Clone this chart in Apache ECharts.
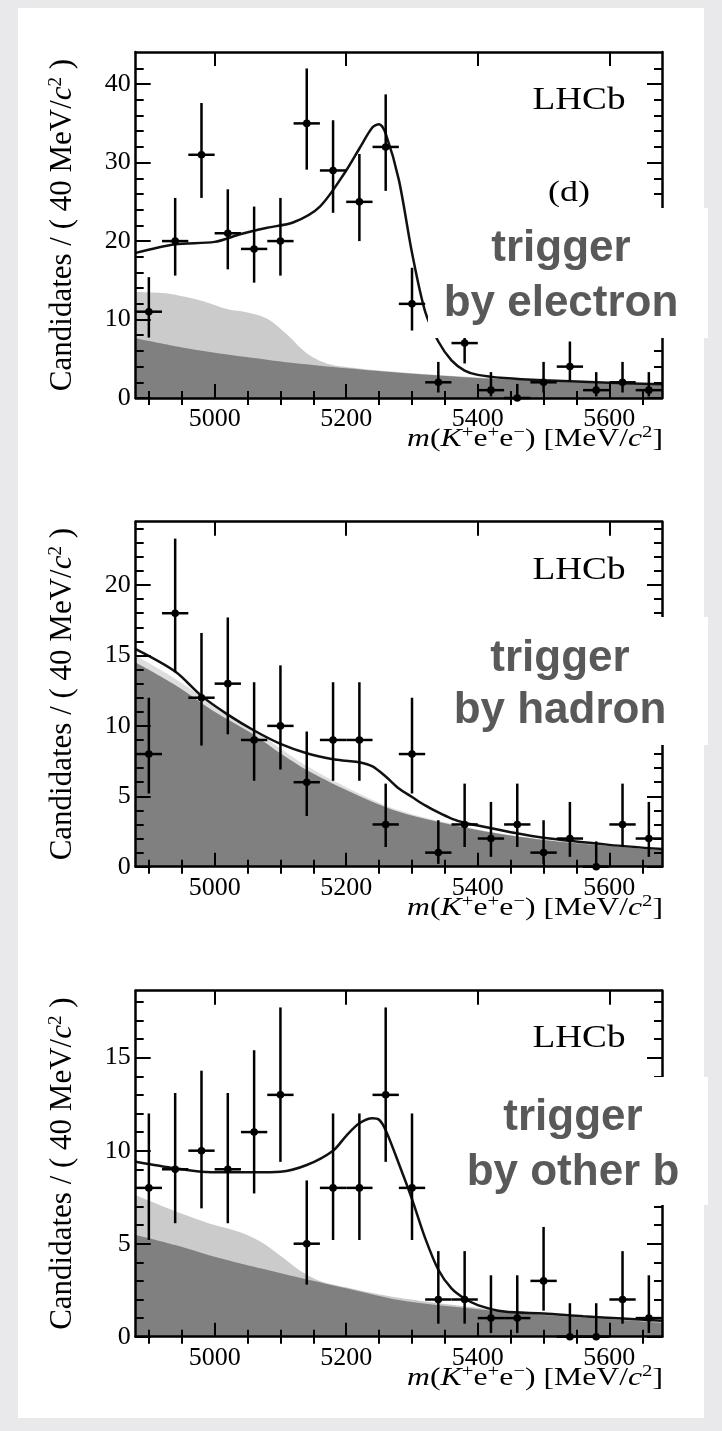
<!DOCTYPE html>
<html><head><meta charset="utf-8">
<script src="https://cdn.jsdelivr.net/npm/echarts@6/dist/echarts.min.js"></script>
<style>
html,body{margin:0;padding:0;background:#e9e9eb;width:722px;height:1431px;overflow:hidden;}
#card{position:absolute;left:18px;top:8px;width:686px;height:1410px;background:#fff;}
#chart{position:absolute;left:0;top:0;width:722px;height:1431px;}
</style></head><body>
<div id="card"></div><div id="chart"></div>
<script>
// ---------------- data ----------------
const binCenters = [4900,4940,4980,5020,5060,5100,5140,5180,5220,5260,5300,5340,5380,5420,5460,5500,5540,5580,5620,5660];
const binHalfWidth = 20;
const xMajorTicks = [5000,5200,5400,5600];
const xMinorTicks = [4900,4950,5050,5100,5150,5250,5300,5350,5450,5500,5550,5650];

// panel 1 : trigger by electron
const counts1 = [11,20,31,21,19,20,35,29,25,32,12,2,7,1,0,2,4,1,2,1];
const errLo1  = [3.3,4.4,5.5,4.6,4.3,4.4,5.9,5.4,5.0,5.6,3.4,1.3,2.6,0.8,0,1.3,1.9,0.8,1.3,0.8];
const errHi1  = [4.4,5.5,6.6,5.6,5.4,5.5,7.0,6.4,6.1,6.7,4.6,2.6,3.8,2.3,1.8,2.6,3.2,2.3,2.6,2.3];
const combX1 = [4880,4940,5000,5060,5120,5200,5290,5400,5500,5600,5680];
const comb1  = [7.6,6.6,5.77,5.1,4.45,3.78,3.15,2.55,2.15,1.85,1.65];
const bkgX1  = [4880,4930,4980,5020,5050,5080,5110,5140,5170,5210,5250,5300,5400,5500,5600,5680];
const bkg1   = [13.5,13.3,12.4,11.3,10.9,10.1,8.1,5.7,4.4,3.85,3.5,3.17,2.62,2.22,1.92,1.72];
const fitX1  = [4880,4940,5000,5040,5080,5120,5160,5200,5220,5240,5250,5260,5280,5300,5320,5340,5360,5380,5400,5440,5500,5600,5680];
const fit1   = [18.5,19.6,19.9,20.9,21.7,22.4,24.4,29.0,31.8,34.5,34.9,33.7,27.8,18.5,11.0,7.2,4.8,3.5,2.95,2.55,2.25,1.95,1.75];
const yMajor1 = [0,10,20,30,40];
const yMinor1 = [2,4,6,8,12,14,16,18,22,24,26,28,32,34,36,38,42];

// panel 2 : trigger by hadron
const counts2 = [8,18,12,13,9,10,6,9,9,3,8,1,3,2,3,1,2,0,3,2];
const errLo2  = [2.8,4.2,3.4,3.6,2.9,3.1,2.4,2.9,2.9,1.6,2.8,0.8,1.6,1.3,1.6,0.8,1.3,0,1.6,1.3];
const errHi2  = [4.0,5.3,4.6,4.7,4.1,4.3,3.6,4.1,4.1,2.9,4.0,2.3,2.9,2.6,2.9,2.3,2.6,1.8,2.9,2.6];
const combX2 = [4880,4940,5000,5060,5100,5140,5200,5280,5400,5500,5600,5680];
const comb2  = [14.5,12.9,11.0,9.36,8.06,6.87,5.45,3.9,2.6,1.9,1.47,1.19];
const bkgX2  = [4880,4940,5000,5060,5100,5140,5200,5280,5400,5500,5600,5680];
const bkg2   = [15.0,13.35,11.45,9.75,8.4,7.15,5.65,4.0,2.65,1.93,1.49,1.2];
const fitX2  = [4880,4940,4980,5020,5060,5100,5140,5180,5200,5220,5240,5260,5280,5300,5320,5340,5360,5380,5400,5450,5500,5600,5680];
const fit2   = [15.45,13.86,12.13,10.8,9.67,8.72,8.06,7.63,7.52,7.42,7.12,6.4,5.55,4.95,4.35,3.85,3.42,3.12,2.92,2.45,2.05,1.55,1.25];
const yMajor2 = [0,5,10,15,20];
const yMinor2 = [1,2,3,4,6,7,8,9,11,12,13,14,16,17,18,19,21,22,23,24];

// panel 3 : trigger by other b
const counts3 = [8,9,10,9,11,13,5,8,8,13,8,2,2,1,1,3,0,0,2,1];
const errLo3  = [2.8,2.9,3.1,2.9,3.3,3.6,2.2,2.8,2.8,3.6,2.8,1.3,1.3,0.8,0.8,1.6,0,0,1.3,0.8];
const errHi3  = [4.0,4.1,4.3,4.1,4.4,4.7,3.4,4.0,4.0,4.7,4.0,2.6,2.6,2.3,2.3,2.9,1.8,1.8,2.6,2.3];
const combX3 = [4880,4940,5000,5060,5120,5200,5280,5400,5500,5600,5680];
const comb3  = [5.47,4.93,4.3,3.76,3.25,2.6,1.97,1.47,1.17,0.94,0.75];
const bkgX3  = [4880,4940,5000,5040,5070,5100,5130,5160,5200,5240,5280,5360,5440,5520,5600,5680];
const bkg3   = [7.6,6.75,6.0,5.6,5.1,4.35,3.55,3.0,2.66,2.35,2.1,1.72,1.4,1.16,0.98,0.8];
const fitX3  = [4880,4940,4980,5020,5060,5100,5140,5180,5200,5220,5240,5250,5260,5280,5300,5320,5340,5360,5380,5400,5440,5500,5560,5620,5680];
const fit3   = [9.41,9.05,8.87,8.84,8.84,8.87,9.23,10.0,10.8,11.47,11.74,11.66,11.1,9.3,7.4,5.3,3.6,2.6,2.05,1.7,1.35,1.25,1.1,0.98,0.86];
const yMajor3 = [0,5,10,15];
const yMinor3 = [1,2,3,4,6,7,8,9,11,12,13,14,16,17,18];

const xMin = 4880, xMax = 5680;
const triggerLabels = [['trigger','by electron'],['trigger','by hadron'],['trigger','by other b']];

// ---------------- layout ----------------
const panels = [
  {top:52,    height:346, yMax:44.1, yMajor:yMajor1, yMinor:yMinor1, counts:counts1, lo:errLo1, hi:errHi1,
   combX:combX1, comb:comb1, bkgX:bkgX1, bkg:bkg1, fitX:fitX1, fit:fit1, bkgColor:'#cbcbcb',
   box:{x:428,y:208,w:280,h:130}, tx:561, tb:[264,319], lhcb:112, d:true},
  {top:521.7, height:345, yMax:24.5, yMajor:yMajor2, yMinor:yMinor2, counts:counts2, lo:errLo2, hi:errHi2,
   combX:combX2, comb:comb2, bkgX:bkgX2, bkg:bkg2, fitX:fitX2, fit:fit2, bkgColor:'#dedede',
   box:{x:442,y:617,w:266,h:128}, tx:560, tb:[674,726], lhcb:582, d:false},
  {top:990.7, height:346, yMax:18.6, yMajor:yMajor3, yMinor:yMinor3, counts:counts3, lo:errLo3, hi:errHi3,
   combX:combX3, comb:comb3, bkgX:bkgX3, bkg:bkg3, fitX:fitX3, fit:fit3, bkgColor:'#cbcbcb',
   box:{x:455,y:1077,w:253,h:128}, tx:573, tb:[1133,1188], lhcb:1050, d:false}
];
const gridLeft = 135.7, gridRight = 60;
const serif = '"Liberation Serif","Times New Roman","DejaVu Serif",serif';
const sans = '"Liberation Sans",Arial,Helvetica,sans-serif';

const grids = [], xAxes = [], yAxes = [], series = [], graphics = [];
const lineBlack = {color:'#000', width:2.5};
const tickStyle = {color:'#000', width:2};
const plainNum = v => String(v);

function zip(xs, ys){ return xs.map((x,i)=>[x, ys[i]]); }

function errRender(params, api){
  const x = api.value(0), y = api.value(1), lo = api.value(2), hi = api.value(3);
  const c = api.coord([x, y]);
  const pLo = api.coord([x, y - lo]);
  const pHi = api.coord([x, y + hi]);
  const pL = api.coord([x - binHalfWidth, y]);
  const pR = api.coord([x + binHalfWidth, y]);
  const st = {stroke:'#000', lineWidth:2.5};
  return {type:'group', children:[
    {type:'line', shape:{x1:c[0], y1:pLo[1], x2:c[0], y2:pHi[1]}, style:st},
    {type:'line', shape:{x1:pL[0], y1:c[1], x2:pR[0], y2:c[1]}, style:st},
    {type:'circle', shape:{cx:c[0], cy:c[1], r:3.8}, style:{fill:'#000'}}
  ]};
}

panels.forEach((p, k) => {
  const gMain = grids.length;
  grids.push({left:gridLeft, right:gridRight, top:p.top, height:p.height, outerBoundsMode:'none', containLabel:false});
  const gMinor = grids.length;
  grids.push({left:gridLeft, right:gridRight, top:p.top, height:p.height, outerBoundsMode:'none', containLabel:false});

  const xBase = {type:'value', min:xMin, max:xMax, splitLine:{show:false}, z:10};
  const xMainIdx = xAxes.length;
  xAxes.push(Object.assign({}, xBase, {gridIndex:gMain, position:'bottom',
    axisLine:{show:true, onZero:false, lineStyle:lineBlack},
    axisTick:{show:true, inside:true, length:14, customValues:xMajorTicks, lineStyle:tickStyle},
    axisLabel:{show:true, customValues:xMajorTicks, formatter:plainNum, fontFamily:serif, fontSize:26, color:'#000', margin:8}}));
  xAxes.push(Object.assign({}, xBase, {gridIndex:gMain, position:'top',
    axisLine:{show:true, onZero:false, lineStyle:lineBlack},
    axisTick:{show:true, inside:true, length:14, customValues:xMajorTicks, lineStyle:tickStyle},
    axisLabel:{show:false}}));
  xAxes.push(Object.assign({}, xBase, {gridIndex:gMinor, position:'bottom',
    axisLine:{show:false},
    axisTick:{show:true, inside:true, length:7, customValues:xMinorTicks, lineStyle:tickStyle},
    axisLabel:{show:false}}));
  xAxes.push(Object.assign({}, xBase, {gridIndex:gMinor, position:'top',
    axisLine:{show:false},
    axisTick:{show:true, inside:true, length:7, customValues:xMinorTicks, lineStyle:tickStyle},
    axisLabel:{show:false}}));

  const yBase = {type:'value', min:0, max:p.yMax, splitLine:{show:false}, z:10};
  const yMainIdx = yAxes.length;
  yAxes.push(Object.assign({}, yBase, {gridIndex:gMain, position:'left',
    axisLine:{show:true, onZero:false, lineStyle:lineBlack},
    axisTick:{show:true, inside:true, length:15, customValues:p.yMajor, lineStyle:tickStyle},
    axisLabel:{show:true, customValues:p.yMajor, formatter:plainNum, fontFamily:serif, fontSize:26, color:'#000', margin:5}}));
  yAxes.push(Object.assign({}, yBase, {gridIndex:gMain, position:'right',
    axisLine:{show:true, onZero:false, lineStyle:lineBlack},
    axisTick:{show:true, inside:true, length:15, customValues:p.yMajor, lineStyle:tickStyle},
    axisLabel:{show:false}}));
  yAxes.push(Object.assign({}, yBase, {gridIndex:gMinor, position:'left',
    axisLine:{show:false},
    axisTick:{show:true, inside:true, length:8, customValues:p.yMinor, lineStyle:tickStyle},
    axisLabel:{show:false}}));
  yAxes.push(Object.assign({}, yBase, {gridIndex:gMinor, position:'right',
    axisLine:{show:false},
    axisTick:{show:true, inside:true, length:8, customValues:p.yMinor, lineStyle:tickStyle},
    axisLabel:{show:false}}));

  const ax = {xAxisIndex:xMainIdx, yAxisIndex:yMainIdx};
  series.push(Object.assign({type:'line', name:'bkg'+k, data:zip(p.bkgX, p.bkg), smooth:0.3,
    showSymbol:false, symbol:'none', lineStyle:{width:0}, areaStyle:{color:p.bkgColor, opacity:1}, z:1, silent:true, animation:false}, ax));
  series.push(Object.assign({type:'line', name:'comb'+k, data:zip(p.combX, p.comb), smooth:0.3,
    showSymbol:false, symbol:'none', lineStyle:{width:0}, areaStyle:{color:'#808080', opacity:1}, z:2, silent:true, animation:false}, ax));
  series.push(Object.assign({type:'line', name:'fit'+k, data:zip(p.fitX, p.fit), smooth:0.3,
    showSymbol:false, symbol:'none', lineStyle:{color:'#111', width:2.5}, z:3, silent:true, animation:false}, ax));
  series.push(Object.assign({type:'custom', name:'data'+k, renderItem:errRender,
    data:binCenters.map((x,i)=>[x, p.counts[i], p.lo[i], p.hi[i]]), encode:{x:0, y:1}, z:4, silent:true, animation:false, clip:false}, ax));

  const midY = p.top + p.height/2;
  const bottomY = p.top + p.height;
  // y axis title
  graphics.push({type:'text', x:63, y:midY, rotation:Math.PI/2, z:50,
    style:{text:'Candidates / ( 40 MeV/{i|c}{sup|2} )', fontFamily:serif, fontSize:31, fill:'#000',
      align:'center', verticalAlign:'middle', textAlign:'center', textVerticalAlign:'middle',
      rich:{i:{fontFamily:serif, fontSize:31, fontStyle:'italic', fill:'#000'},
            sup:{fontFamily:serif, fontSize:19, fill:'#000', verticalAlign:'top', lineHeight:33}}}});
  // x axis title
  graphics.push({type:'text', x:663, y:bottomY + 41, scaleX:1.22, z:50,
    style:{text:'{i|m}({i|K}{sup|+}e{sup|+}e{sup|−}) [MeV/{i|c}{sup|2}]', fontFamily:serif, fontSize:26, fill:'#000',
      align:'right', verticalAlign:'middle', textAlign:'right', textVerticalAlign:'middle',
      rich:{i:{fontFamily:serif, fontSize:26, fontStyle:'italic', fill:'#000'},
            sup:{fontFamily:serif, fontSize:17, fill:'#000', verticalAlign:'top', lineHeight:29}}}});
  // LHCb
  graphics.push({type:'text', x:579, y:p.lhcb - 11, scaleX:1.2, z:50,
    style:{text:'LHCb', fontFamily:serif, fontSize:31, fill:'#000', align:'center', verticalAlign:'middle',
      textAlign:'center', textVerticalAlign:'middle'}});
  if (p.d) {
    graphics.push({type:'text', x:569, y:193, scaleX:1.2, z:50,
      style:{text:'(d)', fontFamily:serif, fontSize:30, fill:'#000', align:'center', verticalAlign:'middle',
        textAlign:'center', textVerticalAlign:'middle'}});
  }
  // white label box and trigger text
  graphics.push({type:'rect', x:p.box.x, y:p.box.y, shape:{x:0, y:0, width:p.box.w, height:p.box.h}, z:90,
    style:{fill:'#ffffff'}});
  triggerLabels[k].forEach((t, j) => {
    graphics.push({type:'text', x:p.tx, y:p.tb[j] - 15, z:95,
      style:{text:t, fontFamily:sans, fontWeight:'bold', fontSize:44, fill:'#595959', align:'center', verticalAlign:'middle',
        textAlign:'center', textVerticalAlign:'middle'}});
  });
});

const chart = echarts.init(document.getElementById('chart'), null, {renderer:'canvas'});
chart.setOption({
  animation:false,
  backgroundColor:'transparent',
  grid:grids, xAxis:xAxes, yAxis:yAxes, series:series,
  graphic:{elements:graphics}
});
</script>
</body></html>
